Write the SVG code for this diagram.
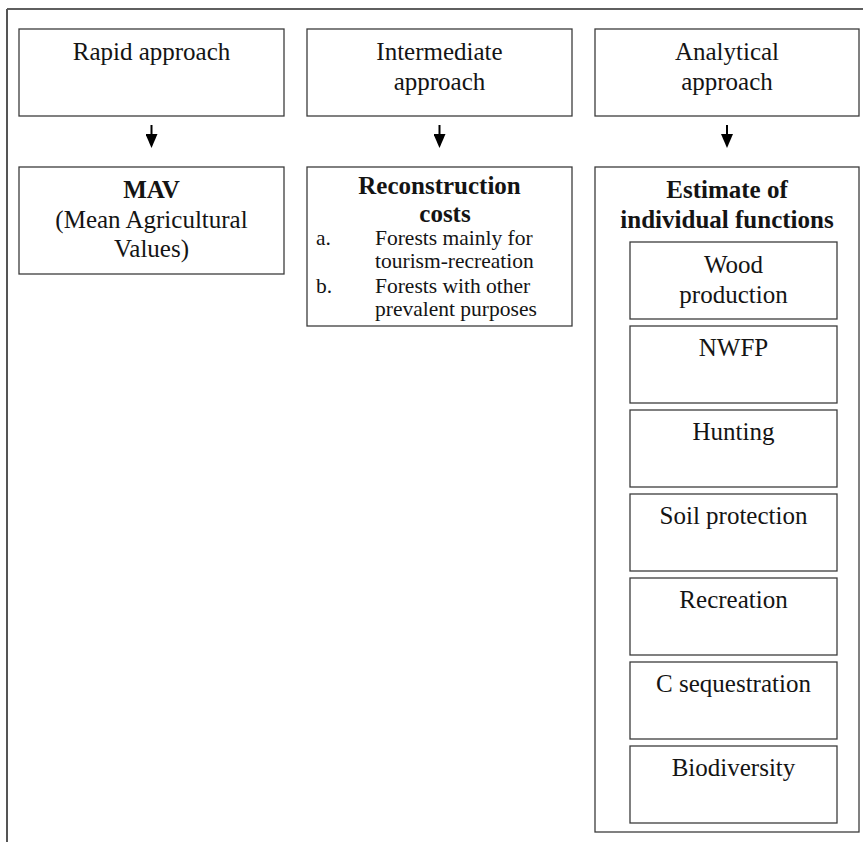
<svg xmlns="http://www.w3.org/2000/svg" width="863" height="842" viewBox="0 0 863 842">
<style>
  .box { fill: #ffffff; stroke: #3c3c3c; stroke-width: 1.3; }
  .t { font-family: "Liberation Serif", "Times New Roman", serif; font-size: 25px; fill: #141414; text-anchor: middle; }
  .b { font-weight: bold; }
  .s { font-family: "Liberation Serif", "Times New Roman", serif; font-size: 21.5px; fill: #141414; }
  .conn { stroke: #000000; stroke-width: 2; fill: none; }
  .frame { stroke: #2a2a2a; stroke-width: 1.5; fill: none; }
</style>
<defs>
  <marker id="ah" viewBox="0 0 14 12" refX="6" refY="6" markerWidth="14" markerHeight="12" markerUnits="userSpaceOnUse" orient="auto">
    <path d="M0,0 L14,6 L0,12 z" fill="#000000"/>
  </marker>
</defs>
<rect x="0" y="0" width="863" height="842" fill="#ffffff"/>
<g id="frame">
  <line class="frame" x1="7" y1="9" x2="863" y2="9"/>
  <line class="frame" x1="7" y1="9" x2="7" y2="842" style="stroke:#555555;stroke-width:2"/>
</g>
<g id="rapid">
  <rect class="box" x="19" y="29" width="265" height="87"/>
  <text class="t" x="151.5" y="60">Rapid approach</text>
</g>
<g id="intermediate">
  <rect class="box" x="307" y="29" width="265" height="87"/>
  <text class="t" x="439.5" y="60">Intermediate</text>
  <text class="t" x="439.5" y="90">approach</text>
</g>
<g id="analytical">
  <rect class="box" x="595" y="29" width="264" height="87"/>
  <text class="t" x="727" y="60">Analytical</text>
  <text class="t" x="727" y="90">approach</text>
</g>
<g id="mav">
  <rect class="box" x="19" y="167" width="265" height="107"/>
  <text class="t b" x="151.5" y="198">MAV</text>
  <text class="t" x="151.5" y="228">(Mean Agricultural</text>
  <text class="t" x="151.5" y="257">Values)</text>
</g>
<g id="reconstruction">
  <rect class="box" x="307" y="167" width="265" height="159"/>
  <text class="t b" x="439.5" y="194">Reconstruction</text>
  <text class="t b" x="445" y="222">costs</text>
  <text class="s" x="316" y="245">a.</text>
  <text class="s" x="375" y="245">Forests mainly for</text>
  <text class="s" x="375" y="268">tourism-recreation</text>
  <text class="s" x="316" y="293">b.</text>
  <text class="s" x="375" y="293">Forests with other</text>
  <text class="s" x="375" y="316">prevalent purposes</text>
</g>
<g id="estimate">
  <rect class="box" x="595" y="167" width="264" height="665"/>
  <text class="t b" x="727" y="198">Estimate of</text>
  <text class="t b" x="727" y="228">individual functions</text>
</g>
<g id="wood">
  <rect class="box" x="630" y="242" width="207" height="77"/>
  <text class="t" x="733.5" y="273">Wood</text>
  <text class="t" x="733.5" y="303">production</text>
</g>
<g id="nwfp">
  <rect class="box" x="630" y="326" width="207" height="77"/>
  <text class="t" x="733.5" y="356">NWFP</text>
</g>
<g id="hunting">
  <rect class="box" x="630" y="410" width="207" height="77"/>
  <text class="t" x="733.5" y="440">Hunting</text>
</g>
<g id="soil">
  <rect class="box" x="630" y="494" width="207" height="77"/>
  <text class="t" x="733.5" y="524">Soil protection</text>
</g>
<g id="recreation">
  <rect class="box" x="630" y="578" width="207" height="77"/>
  <text class="t" x="733.5" y="608">Recreation</text>
</g>
<g id="carbon">
  <rect class="box" x="630" y="662" width="207" height="77"/>
  <text class="t" x="733.5" y="692">C sequestration</text>
</g>
<g id="biodiversity">
  <rect class="box" x="630" y="746" width="207" height="77"/>
  <text class="t" x="733.5" y="776">Biodiversity</text>
</g>
<g id="connectors">
  <line class="conn" x1="151.5" y1="125" x2="151.5" y2="140" marker-end="url(#ah)"/>
  <line class="conn" x1="439.5" y1="125" x2="439.5" y2="140" marker-end="url(#ah)"/>
  <line class="conn" x1="727" y1="125" x2="727" y2="140" marker-end="url(#ah)"/>
</g>
</svg>
